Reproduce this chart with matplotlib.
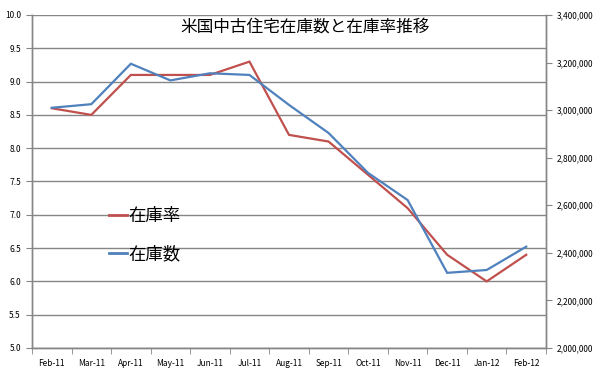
import matplotlib
matplotlib.use('Agg')
import matplotlib.pyplot as plt
from matplotlib.lines import Line2D
from matplotlib.ticker import FuncFormatter, MultipleLocator
import numpy as np

plt.rcParams['font.family'] = ['Noto Sans CJK JP', 'DejaVu Sans']

months = ['Feb-11', 'Mar-11', 'Apr-11', 'May-11', 'Jun-11', 'Jul-11', 'Aug-11',
          'Sep-11', 'Oct-11', 'Nov-11', 'Dec-11', 'Jan-12', 'Feb-12']
rate = [8.6, 8.5, 9.1, 9.1, 9.1, 9.3, 8.2, 8.1, 7.6, 7.1, 6.4, 6.0, 6.4]
inventory = [3010000, 3025000, 3195000, 3125000, 3155000, 3148000, 3022000,
             2904000, 2736000, 2622000, 2316000, 2328000, 2426000]

title = '米国中古住宅在庫数と在庫率推移'
red = '#C0504D'
blue = '#4F81BD'
grid_c = '#868686'

fig = plt.figure(figsize=(6.08, 3.82), dpi=100)
ax = fig.add_axes([32 / 608, 34 / 382, 514 / 608, 333 / 382])
ax2 = ax.twinx()

x = np.arange(len(months))
ax.plot(x, rate, color=red, lw=1.6, solid_joinstyle='miter')
ax2.plot(x, inventory, color=blue, lw=1.6, solid_joinstyle='miter')

ax.set_xlim(-0.5, len(months) - 0.5)
ax.set_ylim(5.0, 10.0)
ax.yaxis.set_major_locator(MultipleLocator(0.5))
ax.yaxis.set_major_formatter(FuncFormatter(lambda v, p: f'{v:.1f}'))
ax2.set_ylim(2000000, 3400000)
ax2.yaxis.set_major_locator(MultipleLocator(200000))
ax2.yaxis.set_major_formatter(FuncFormatter(lambda v, p: f'{int(v):,}'))

ax.set_xticks(x)
ax.set_xticklabels(months)
ax.set_xticks(np.arange(-0.5, len(months), 1), minor=True)
ax.tick_params(axis='x', which='major', length=0, labelsize=6, pad=8)
ax.tick_params(axis='x', which='minor', length=4, color=grid_c, direction='out')
ax.tick_params(axis='y', length=4, color=grid_c, labelsize=6, pad=4)
ax2.tick_params(axis='y', length=4, color=grid_c, labelsize=6, pad=4)

ax.grid(axis='y', color=grid_c, lw=1)
ax.set_axisbelow(True)
for a in (ax, ax2):
    a.spines['top'].set_visible(False)
    for s in ('left', 'right', 'bottom'):
        a.spines[s].set_color(grid_c)
        a.spines[s].set_linewidth(1)

ax.text(0.532, 0.99, title, transform=ax.transAxes, ha='center', va='top', fontsize=12)

handles = [Line2D([], [], color=red, lw=2), Line2D([], [], color=blue, lw=2)]
ax.legend(handles, ['在庫率', '在庫数'], loc='upper left', bbox_to_anchor=(0.12, 0.47),
          frameon=False, fontsize=12.5, handlelength=1.0, handletextpad=0.1,
          labelspacing=1.15)

fig.savefig('out.png', dpi=100)
